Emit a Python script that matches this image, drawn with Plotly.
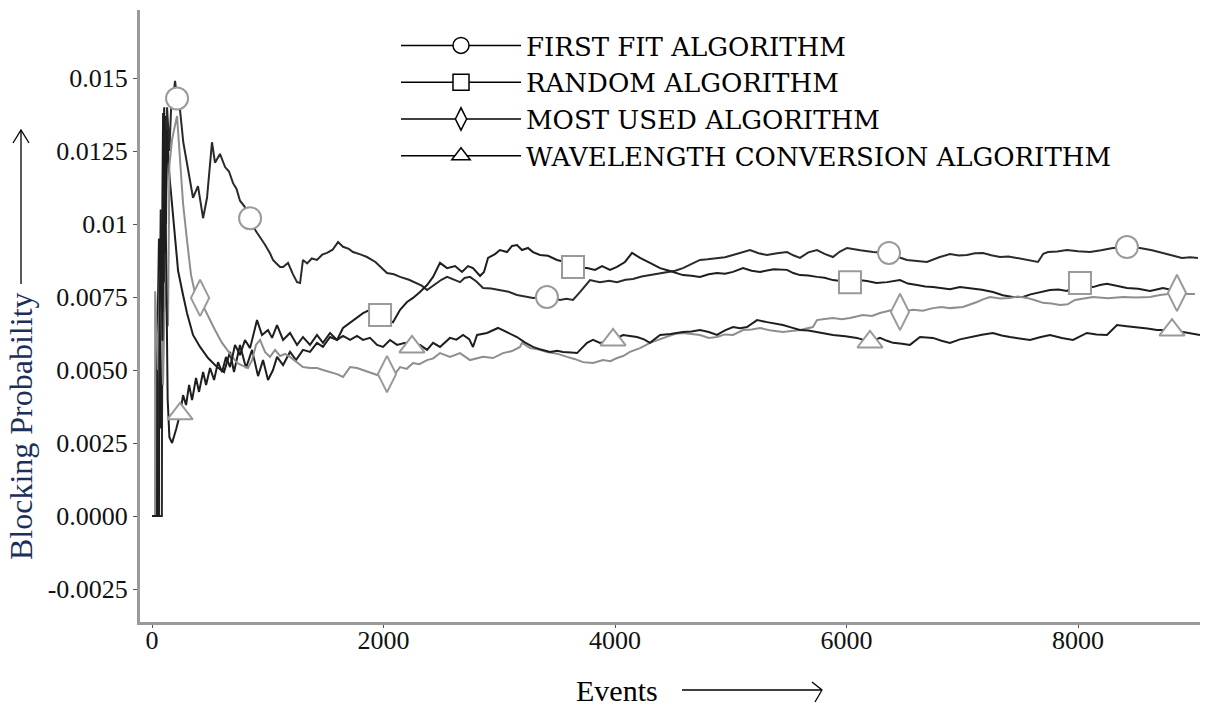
import plotly.graph_objects as go

# ---------------- data ----------------
FF_EVENTS = [0, 85, 86, 95, 104, 112, 121, 130, 150, 165, 190, 199, 216, 242, 270, 302, 328, 354, 397, 441,
             475, 518, 544, 587, 631, 665, 700, 730, 760, 800, 847, 875, 907, 933, 975, 1019, 1045, 1075, 1106, 1132,
             1175, 1215, 1253, 1279, 1304, 1340, 1380, 1425, 1470, 1512, 1560, 1607, 1650, 1700, 1736, 1800, 1857, 1930, 1980, 2030,
             2090, 2143, 2220, 2289, 2330, 2376, 2420, 2462, 2500, 2549, 2600, 2661, 2700, 2747, 2800, 2860, 2930, 3006, 3080, 3153,
             3220, 3291, 3350, 3412, 3470, 3525, 3580, 3637, 3697, 3740, 3784, 3830, 3870, 3950, 4017, 4090, 4155, 4230, 4302, 4380,
             4449, 4520, 4587, 4660, 4734, 4800, 4881, 4950, 5019, 5090, 5166, 5240, 5313, 5400, 5486, 5540, 5598, 5670, 5745, 5810,
             5883, 5940, 6004, 6120, 6229, 6367, 6440, 6522, 6600, 6695, 6800, 6894, 6970, 7041, 7110, 7179, 7250, 7326, 7400, 7473,
             7560, 7654, 7700, 7741, 7820, 7905, 8000, 8103, 8200, 8302, 8423, 8535, 8640, 8734, 8820, 8898, 8970, 9036]
FF_PROB = [0.0, 0.0, 0.0025, 0.0138, 0.0070, 0.0137, 0.0100, 0.0140, 0.0125, 0.0140, 0.0146, 0.0149, 0.0143, 0.0139, 0.0128, 0.0121, 0.0115, 0.0109, 0.0113, 0.0102,
           0.0109, 0.0128, 0.0121, 0.0124, 0.01195, 0.0118, 0.0114, 0.0112, 0.0108, 0.0106, 0.0102, 0.0099, 0.0097, 0.00956, 0.0093, 0.0090, 0.00877, 0.00865, 0.00853, 0.00853,
           0.00867, 0.0083, 0.00801, 0.00798, 0.00877, 0.00865, 0.00882, 0.00877, 0.00895, 0.00901, 0.00912, 0.00938, 0.00922, 0.00915, 0.00904, 0.00896, 0.00887, 0.0087, 0.00852, 0.00832,
           0.00828, 0.00819, 0.00809, 0.00798, 0.00789, 0.00774, 0.00786, 0.00798, 0.00809, 0.00819, 0.00812, 0.00801, 0.00815, 0.00819, 0.00804, 0.00781, 0.00779, 0.00774, 0.00768, 0.00757,
           0.00753, 0.00747, 0.00749, 0.0075, 0.00746, 0.0074, 0.00744, 0.0074, 0.00767, 0.00788, 0.00808, 0.00804, 0.00801, 0.00806, 0.00801, 0.00809, 0.00812, 0.0082, 0.00825, 0.0083,
           0.00836, 0.0084, 0.00849, 0.00862, 0.00877, 0.00879, 0.00884, 0.00886, 0.00894, 0.00901, 0.00911, 0.009, 0.00894, 0.009, 0.00904, 0.00893, 0.00884, 0.00903, 0.00911, 0.00898,
           0.00887, 0.00905, 0.00918, 0.0091, 0.00904, 0.00901, 0.00888, 0.00877, 0.00874, 0.0087, 0.00886, 0.00897, 0.00892, 0.00894, 0.009, 0.00901, 0.00893, 0.00887, 0.00889, 0.00884,
           0.00878, 0.0087, 0.00898, 0.00904, 0.00906, 0.00911, 0.00907, 0.00904, 0.0091, 0.00918, 0.00921, 0.00918, 0.0091, 0.00901, 0.00893, 0.00884, 0.00886, 0.00884]

RA_EVENTS = [0, 43, 44, 60, 78, 95, 112, 130, 147, 160, 180, 199, 225, 268, 302, 354, 415, 484, 562, 622,
             674, 708, 760, 812, 864, 916, 959, 1002, 1045, 1080, 1132, 1192, 1244, 1304, 1365, 1425, 1477, 1538, 1598, 1650,
             1711, 1771, 1823, 1883, 1935, 1970, 2039, 2082, 2143, 2203, 2255, 2315, 2376, 2428, 2488, 2549, 2618, 2678, 2730, 2773,
             2834, 2868, 2903, 2963, 3006, 3067, 3110, 3153, 3196, 3248, 3291, 3352, 3421, 3499, 3568, 3637, 3697, 3758, 3827, 3888,
             3957, 4017, 4086, 4147, 4216, 4302, 4389, 4475, 4530, 4587, 4660, 4734, 4810, 4881, 4950, 5019, 5106, 5180, 5253, 5370,
             5486, 5540, 5598, 5670, 5745, 5810, 5883, 6030, 6100, 6177, 6260, 6350, 6462, 6530, 6609, 6680, 6747, 6820, 6894, 6980,
             7067, 7170, 7265, 7350, 7438, 7525, 7590, 7646, 7700, 7758, 7830, 7905, 8017, 8070, 8129, 8190, 8250, 8340, 8423, 8520,
             8622, 8680, 8734, 8812]
RA_PROB = [0.0, 0.0, 0.0055, 0.0095, 0.0030, 0.0135, 0.0090, 0.0132, 0.0118, 0.0112, 0.0102, 0.00945, 0.0084, 0.00757, 0.00695, 0.0062, 0.00579, 0.00541, 0.0051, 0.00493,
           0.00562, 0.00493, 0.00586, 0.00507, 0.00569, 0.00479, 0.00534, 0.00466, 0.0050, 0.00545, 0.00517, 0.00562, 0.00534, 0.00569, 0.00562, 0.00593, 0.00579, 0.00613, 0.00603, 0.00644,
           0.00661, 0.00678, 0.00695, 0.00706, 0.00699, 0.00688, 0.00671, 0.00664, 0.00706, 0.00733, 0.00747, 0.00767, 0.00791, 0.00819, 0.00867, 0.00849, 0.00856, 0.00836, 0.00856, 0.00849,
           0.00822, 0.00836, 0.00884, 0.00897, 0.00911, 0.00904, 0.00925, 0.00928, 0.00911, 0.00918, 0.00904, 0.00894, 0.00891, 0.00877, 0.0087, 0.00853, 0.00849, 0.00849, 0.00843, 0.00856,
           0.00843, 0.00853, 0.0087, 0.00901, 0.00884, 0.00867, 0.00849, 0.00839, 0.00832, 0.00825, 0.00823, 0.00819, 0.00828, 0.00832, 0.0083, 0.00836, 0.00849, 0.0084, 0.00836, 0.00845,
           0.00843, 0.00832, 0.00825, 0.00824, 0.00819, 0.00816, 0.00808, 0.00801, 0.00808, 0.00805, 0.00798, 0.00801, 0.00808, 0.00796, 0.00791, 0.00786, 0.00784, 0.0078, 0.00777, 0.00784,
           0.00781, 0.00775, 0.00767, 0.00756, 0.0075, 0.0075, 0.00759, 0.00764, 0.0077, 0.00774, 0.00776, 0.00771, 0.00798, 0.00788, 0.00784, 0.00791, 0.00795, 0.00787, 0.00781, 0.00778,
           0.00771, 0.00776, 0.00781, 0.00774]

MU_EVENTS = [0, 26, 27, 52, 69, 95, 112, 138, 150, 173, 216, 268, 302, 337, 371, 415, 458, 501, 544, 605,
             648, 700, 734, 786, 829, 864, 898, 933, 976, 1019, 1063, 1106, 1149, 1192, 1253, 1304, 1365, 1425, 1477, 1538,
             1598, 1650, 1711, 1771, 1823, 1883, 1944, 1996, 2030, 2073, 2143, 2200, 2255, 2310, 2376, 2430, 2488, 2574, 2661, 2747,
             2860, 2946, 3032, 3110, 3179, 3196, 3266, 3340, 3412, 3500, 3585, 3650, 3723, 3810, 3896, 3960, 4017, 4070, 4129, 4216,
             4302, 4380, 4449, 4520, 4587, 4660, 4734, 4810, 4881, 4950, 5019, 5106, 5180, 5253, 5350, 5451, 5520, 5598, 5710, 5745,
             5810, 5883, 5960, 6030, 6142, 6220, 6289, 6402, 6462, 6574, 6660, 6747, 6820, 6894, 7006, 7070, 7127, 7180, 7239, 7330,
             7412, 7480, 7559, 7630, 7697, 7770, 7844, 7910, 7974, 8050, 8129, 8260, 8388, 8500, 8622, 8708, 8855, 8930, 9010]
MU_PROB = [0.0, 0.0, 0.0077, 0.0050, 0.0084, 0.0045, 0.0080, 0.0065, 0.0120, 0.0129, 0.0137, 0.0107, 0.00945, 0.00825, 0.00764, 0.00747, 0.00706, 0.00671, 0.00637, 0.00593,
           0.00569, 0.00541, 0.00524, 0.00514, 0.00507, 0.00534, 0.00586, 0.00603, 0.00562, 0.00545, 0.00569, 0.00548, 0.00555, 0.00545, 0.00527, 0.0051, 0.00507, 0.00507, 0.0050, 0.00493,
           0.00486, 0.00476, 0.0051, 0.00507, 0.0050, 0.00493, 0.00483, 0.00476, 0.00486, 0.00473, 0.0051, 0.00504, 0.00524, 0.0052, 0.00534, 0.0054, 0.00558, 0.00545, 0.00558, 0.00534,
           0.00545, 0.00541, 0.00558, 0.00565, 0.00579, 0.00593, 0.00575, 0.0057, 0.00562, 0.00556, 0.00545, 0.00538, 0.00527, 0.00524, 0.00534, 0.0053, 0.00541, 0.00548, 0.00562, 0.00575,
           0.00593, 0.00605, 0.00613, 0.00624, 0.00627, 0.00623, 0.0062, 0.0061, 0.00613, 0.00622, 0.0062, 0.00637, 0.00639, 0.00644, 0.00635, 0.0063, 0.00633, 0.00637, 0.00647, 0.00671,
           0.00675, 0.00678, 0.00674, 0.00678, 0.00688, 0.00685, 0.00695, 0.00706, 0.00699, 0.00706, 0.00703, 0.00712, 0.00716, 0.00712, 0.00716, 0.00724, 0.00733, 0.00742, 0.0075, 0.00745,
           0.00747, 0.00752, 0.00747, 0.00739, 0.0073, 0.00728, 0.00723, 0.00725, 0.0074, 0.00745, 0.0075, 0.00746, 0.0075, 0.00748, 0.0075, 0.00757, 0.00764, 0.0076, 0.0076]

WC_EVENTS = [0, 60, 61, 75, 90, 105, 120, 135, 150, 173, 210, 242, 268, 294, 320, 346, 380, 406, 441, 467,
             501, 536, 570, 605, 639, 674, 717, 760, 803, 847, 907, 950, 1002, 1037, 1080, 1132, 1192, 1253, 1304, 1365,
             1425, 1477, 1538, 1598, 1650, 1711, 1771, 1823, 1883, 1944, 1996, 2056, 2117, 2186, 2246, 2315, 2376, 2428, 2488, 2574,
             2630, 2687, 2740, 2773, 2808, 2894, 2989, 3067, 3153, 3220, 3291, 3360, 3438, 3500, 3551, 3620, 3672, 3758, 3810, 3870,
             3983, 4069, 4130, 4190, 4250, 4302, 4389, 4480, 4587, 4660, 4734, 4810, 4881, 4950, 5019, 5080, 5140, 5227, 5313, 5380,
             5451, 5520, 5598, 5670, 5745, 5810, 5883, 5990, 6090, 6203, 6289, 6350, 6402, 6480, 6548, 6635, 6747, 6820, 6894, 6980,
             7067, 7170, 7265, 7340, 7412, 7500, 7585, 7670, 7758, 7860, 7957, 8077, 8160, 8250, 8337, 8420, 8509, 8600, 8682, 8812,
             8907, 8980, 9054]
WC_PROB = [0.0, 0.0, 0.0045, 0.0105, 0.0060, 0.0140, 0.0095, 0.0040, 0.0027, 0.0025, 0.0030, 0.0035, 0.00414, 0.0038, 0.00449, 0.00397, 0.00473, 0.00425, 0.00493, 0.00449,
           0.00507, 0.00466, 0.00527, 0.00493, 0.00545, 0.0051, 0.00586, 0.00551, 0.00603, 0.00575, 0.00671, 0.0062, 0.00637, 0.0061, 0.00654, 0.00603, 0.00627, 0.00586, 0.00613, 0.00586,
           0.0062, 0.00593, 0.00627, 0.00603, 0.00617, 0.00603, 0.00617, 0.00603, 0.0061, 0.00586, 0.00579, 0.00603, 0.00586, 0.00593, 0.00579, 0.00586, 0.00569, 0.00593, 0.00579, 0.0061,
           0.00604, 0.0062, 0.00606, 0.00579, 0.0062, 0.00627, 0.00644, 0.0063, 0.00613, 0.00595, 0.00579, 0.0057, 0.00562, 0.00566, 0.00562, 0.0056, 0.00558, 0.00593, 0.00603, 0.00593,
           0.00603, 0.0062, 0.00616, 0.00613, 0.00605, 0.00593, 0.0062, 0.00623, 0.0063, 0.00632, 0.00637, 0.0063, 0.0062, 0.00636, 0.00647, 0.00643, 0.00647, 0.00671, 0.00664, 0.0066,
           0.00654, 0.00646, 0.00637, 0.00635, 0.0063, 0.00626, 0.0062, 0.00616, 0.0061, 0.00596, 0.0061, 0.0060, 0.00593, 0.0059, 0.00586, 0.00613, 0.0061, 0.0060, 0.00593, 0.00605,
           0.00613, 0.00621, 0.00627, 0.00618, 0.00613, 0.00608, 0.00603, 0.00612, 0.0062, 0.0061, 0.00603, 0.00627, 0.00622, 0.0062, 0.00654, 0.0065, 0.00647, 0.00642, 0.00637, 0.00637,
           0.0063, 0.00626, 0.0062]

FF_MARKS = [216, 847, 3412, 6367, 8423]
RA_MARKS = [1970, 3637, 6030, 8017]
MU_MARKS = [415, 2030, 6462, 8855]
WC_MARKS = [242, 2246, 3983, 6203, 8812]

NAMES = ["FIRST FIT ALGORITHM", "RANDOM ALGORITHM", "MOST USED ALGORITHM", "WAVELENGTH CONVERSION ALGORITHM"]
SYMBOLS = ["circle", "square", "diamond-tall", "triangle-up"]
LINE_COLORS = ["#2a2a2a", "#1e1e1e", "#8e8e8e", "#1e1e1e"]

Y_TICKS = [-0.0025, 0.0, 0.0025, 0.005, 0.0075, 0.01, 0.0125, 0.015]
Y_TICK_TEXT = ["-0.0025", "0.0000", "0.0025", "0.0050", "0.0075", "0.01", "0.0125", "0.015"]
X_TICKS = [0, 2000, 4000, 6000, 8000]

SERIES = [(FF_EVENTS, FF_PROB, FF_MARKS), (RA_EVENTS, RA_PROB, RA_MARKS),
          (MU_EVENTS, MU_PROB, MU_MARKS), (WC_EVENTS, WC_PROB, WC_MARKS)]

FONT = "Liberation Serif"
LEGEND_FONT = "DejaVu Serif"
fig = go.Figure()

for (ev, pr, _), col in zip(SERIES, LINE_COLORS):
    fig.add_trace(go.Scatter(x=ev, y=pr, mode="lines", line=dict(color=col, width=2),
                             showlegend=False, hoverinfo="skip"))
for (ev, pr, mk), sym in zip(SERIES, SYMBOLS):
    lookup = dict(zip(ev, pr))
    fig.add_trace(go.Scatter(x=mk, y=[lookup[e] for e in mk], mode="markers",
                             marker=dict(symbol=sym, size=22 if sym != "diamond-tall" else 26,
                                         color="white", line=dict(color="#9a9a9a", width=2)),
                             showlegend=False, hoverinfo="skip"))
for i, (name, sym) in enumerate(zip(NAMES, SYMBOLS)):
    fig.add_trace(go.Scatter(x=[None], y=[None], mode="lines+markers", name=name,
                             line=dict(color="black", width=1.5),
                             marker=dict(symbol=sym, size=20, color="white", line=dict(color="black", width=1.5))))

# helpers: pixel position in the figure -> paper coordinates
PL, PR, PT, PB = 140, 1200, 10, 622
def px(x):
    return (x - PL) / (PR - PL)
def py(y):
    return (PB - y) / (PB - PT)

arrow_style = dict(xref="paper", yref="paper", line=dict(color="black", width=1.3))
shapes = [
    dict(type="line", x0=px(21), y0=py(284), x1=px(21), y1=py(130), **arrow_style),
    dict(type="path", path=f"M {px(13)},{py(143)} L {px(21)},{py(130)} L {px(29)},{py(143)}", **arrow_style),
    dict(type="line", x0=px(682), y0=py(690), x1=px(822), y1=py(690), **arrow_style),
    dict(type="path", path=f"M {px(812)},{py(682)} L {px(822)},{py(690)} L {px(815)},{py(702)}", **arrow_style),
]

fig.update_layout(
    width=1209, height=709,
    margin=dict(l=PL, r=1209 - PR, t=PT, b=709 - PB),
    plot_bgcolor="white", paper_bgcolor="white",
    font=dict(family=FONT, color="black", size=26),
    legend=dict(x=px(396), y=py(22), xanchor="left", yanchor="top", bgcolor="rgba(0,0,0,0)",
                font=dict(family=LEGEND_FONT, size=26, color="black"), itemwidth=120,
                tracegroupgap=0),
    xaxis=dict(range=[-104, 9054], tickvals=X_TICKS, showline=True, linecolor="#9a9a9a", linewidth=3,
               ticks="outside", ticklen=3, tickcolor="#555", showgrid=False, zeroline=False,
               ticklabelstandoff=-10,
               tickfont=dict(family=FONT, size=26, color="#111")),
    yaxis=dict(range=[-0.00363, 0.01733], tickvals=Y_TICKS, ticktext=Y_TICK_TEXT, showline=True,
               linecolor="#9a9a9a", linewidth=3, ticks="outside", ticklen=4, tickcolor="#555",
               showgrid=False, zeroline=False, tickfont=dict(family=FONT, size=26, color="#111")),
    shapes=shapes,
    annotations=[
        dict(text="Blocking Probability", xref="paper", yref="paper", x=px(21), y=py(426),
             xanchor="center", yanchor="middle",
             textangle=-90, showarrow=False, font=dict(family=FONT, size=32, color="#1c2f5a")),
        dict(text="Events", xref="paper", yref="paper", x=px(617), y=py(690),
             xanchor="center", yanchor="middle",
             showarrow=False, font=dict(family=FONT, size=30, color="black")),
    ],
)

fig.write_html("out.html")
